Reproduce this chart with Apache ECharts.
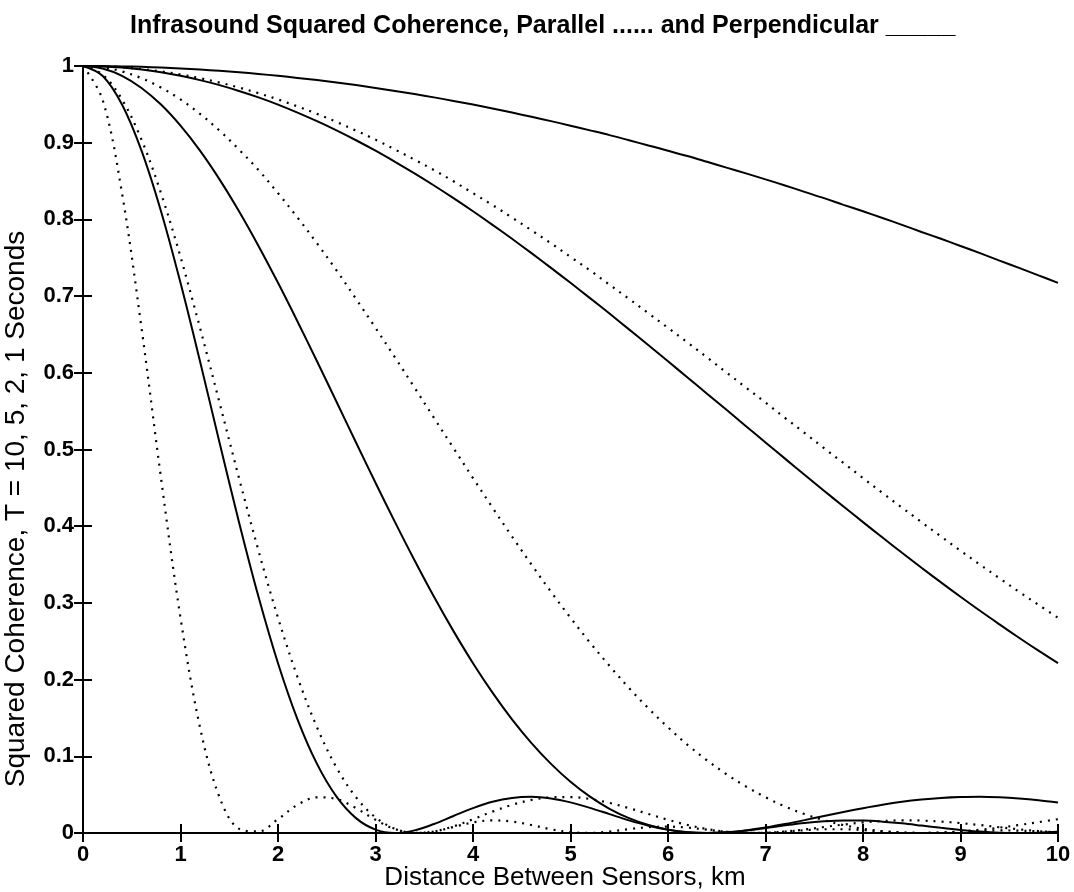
<!DOCTYPE html>
<html>
<head>
<meta charset="utf-8">
<script src="https://cdn.jsdelivr.net/npm/echarts@6/dist/echarts.min.js"></script>
<style>
html,body{margin:0;padding:0;background:#fff;}
#chart{width:1074px;height:892px;}
</style>
</head>
<body>
<div id="chart"></div>
<script>
// Distance between sensors (km)
const xs = [0,0.2,0.4,0.6,0.8,1,1.2,1.4,1.6,1.8,2,2.2,2.4,2.6,2.8,3,3.2,3.4,3.6,3.8,4,4.2,4.4,4.6,4.8,5,5.2,5.4,5.6,5.8,6,6.2,6.4,6.6,6.8,7,7.2,7.4,7.6,7.8,8,8.2,8.4,8.6,8.8,9,9.2,9.4,9.6,9.8,10];

// Perpendicular (solid) squared coherence, T = 10, 5, 2, 1 s
const perpT10 = [1,1.000,0.9995,0.9989,0.9979,0.9968,0.9954,0.9937,0.9918,0.9896,0.9872,0.9845,0.9816,0.9785,0.9751,0.9714,0.9675,0.9634,0.9591,0.9545,0.9497,0.9447,0.9393,0.9338,0.9281,0.9222,0.9161,0.9099,0.9032,0.8964,0.8896,0.8826,0.8751,0.8675,0.8600,0.8522,0.8442,0.8359,0.8277,0.8190,0.8106,0.8018,0.7929,0.7836,0.7747,0.7654,0.7560,0.7463,0.7368,0.7270,0.7173];
const perpT5 = [1,0.9995,0.9979,0.9954,0.9918,0.9872,0.9816,0.9751,0.9675,0.9591,0.9497,0.9393,0.9281,0.9161,0.9032,0.8896,0.8751,0.8600,0.8442,0.8277,0.8106,0.7929,0.7747,0.7560,0.7368,0.7173,0.6974,0.6772,0.6566,0.6359,0.6150,0.5939,0.5728,0.5517,0.5304,0.5092,0.4881,0.4671,0.4463,0.4257,0.4053,0.3852,0.3653,0.3459,0.3267,0.3080,0.2897,0.2720,0.2546,0.2377,0.2214];
const perpT2 = [1,0.9968,0.9872,0.9714,0.9497,0.9222,0.8896,0.8522,0.8106,0.7654,0.7173,0.6669,0.6150,0.5622,0.5092,0.4567,0.4053,0.3556,0.3080,0.2632,0.2214,0.1830,0.1482,0.1172,0.0901,0.0668,0.0474,0.0316,0.0194,0.0104,0.0044,0.0010,0,0.0009,0.0034,0.0071,0.0117,0.0168,0.0222,0.0275,0.0324,0.0369,0.0407,0.0436,0.0457,0.0469,0.0472,0.0465,0.0450,0.0428,0.0399];
const perpT1 = [1,0.9872,0.9497,0.8896,0.8106,0.7173,0.6150,0.5092,0.4053,0.3080,0.2214,0.1482,0.0901,0.0474,0.0194,0.0044,0,0.0034,0.0117,0.0222,0.0324,0.0407,0.0457,0.0472,0.0450,0.0399,0.0328,0.0246,0.0165,0.0095,0.0042,0.0010,0,0.0009,0.0033,0.0065,0.0100,0.0131,0.0153,0.0164,0.0162,0.0148,0.0126,0.0097,0.0067,0.0040,0.0018,0.0004,0,0.0004,0.0015];

// Parallel (dotted) squared coherence, T = 10, 5, 2, 1 s
const parT10 = [1,0.9996,0.9982,0.9960,0.9929,0.9889,0.9841,0.9784,0.9719,0.9645,0.9564,0.9473,0.9376,0.9271,0.9158,0.9040,0.8911,0.8779,0.8643,0.8497,0.8342,0.8187,0.8024,0.7858,0.7688,0.7511,0.7335,0.7149,0.6964,0.6776,0.6586,0.6396,0.6200,0.6004,0.5808,0.5611,0.5412,0.5217,0.5018,0.4823,0.4628,0.4434,0.4242,0.4053,0.3866,0.3681,0.3499,0.3321,0.3145,0.2975,0.2806];
const parT5 = [1,0.9982,0.9929,0.9841,0.9719,0.9564,0.9376,0.9158,0.8911,0.8643,0.8342,0.8024,0.7688,0.7335,0.6964,0.6586,0.6200,0.5808,0.5412,0.5018,0.4628,0.4242,0.3866,0.3499,0.3145,0.2806,0.2482,0.2179,0.1890,0.1624,0.1378,0.1150,0.0948,0.0766,0.0606,0.0466,0.0346,0.0247,0.0166,0.0103,0.0055,0.0024,0.0006,0,0.0005,0.0020,0.0042,0.0070,0.0104,0.0141,0.0180];
const parT2 = [1,0.9889,0.9564,0.9040,0.8342,0.7511,0.6586,0.5611,0.4628,0.3681,0.2806,0.2033,0.1378,0.0853,0.0466,0.0204,0.0055,0.0001,0.0020,0.0086,0.0180,0.0279,0.0367,0.0431,0.0465,0.0469,0.0443,0.0392,0.0324,0.0248,0.0172,0.0105,0.0052,0.0017,0.0001,0.0003,0.0019,0.0045,0.0078,0.0110,0.0138,0.0156,0.0165,0.0162,0.0149,0.0129,0.0104,0.0075,0.0048,0.0025,0.0010];
const parT1 = [1,0.9564,0.8342,0.6586,0.4628,0.2806,0.1378,0.0466,0.0055,0.0020,0.0180,0.0367,0.0465,0.0443,0.0324,0.0172,0.0052,0.0001,0.0019,0.0078,0.0138,0.0165,0.0149,0.0104,0.0048,0.0010,0.0001,0.0019,0.0050,0.0076,0.0083,0.0070,0.0043,0.0016,0.0001,0.0003,0.0018,0.0036,0.0049,0.0049,0.0037,0.0020,0.0005,0,0.0005,0.0016,0.0028,0.0034,0.0030,0.0021,0.0009];

const xTicks = [0,1,2,3,4,5,6,7,8,9,10];
const titleText = 'Infrasound Squared Coherence, Parallel ...... and Perpendicular _____';
const xName = 'Distance Between Sensors, km';
const yName = 'Squared Coherence, T = 10, 5, 2, 1 Seconds';

const FONT = '"Liberation Sans", Arial, Helvetica, sans-serif';

function pairs(ys){ return xs.map((x,i)=>[x, ys[i]]); }

const solidStyle = {color:'#000', width:2, type:'solid'};
const dotStyle = {color:'#000', width:2.2, type:[2,6], cap:'butt'};

function mk(name, ys, style){
  return {name, type:'line', data:pairs(ys), showSymbol:false, smooth:0.35,
          lineStyle:style, itemStyle:{color:'#000'}, silent:true, animation:false, z:3};
}

const chart = echarts.init(document.getElementById('chart'), null, {renderer:'canvas'});

const axisLineStyle = {lineStyle:{color:'#000', width:2}};
const tickStyle = {inside:true, length:9, lineStyle:{color:'#000', width:2}};

chart.setOption({
  animation:false,
  backgroundColor:'#fff',
  title:{text:titleText, left:125, top:9,
         textStyle:{fontFamily:FONT, fontSize:25, fontWeight:'bold', color:'#000'}},
  grid:{left:83, right:16, top:66, bottom:59, containLabel:false},
  xAxis:[
    {type:'value', min:0, max:10, interval:1, position:'bottom',
     axisLine:axisLineStyle, axisTick:tickStyle, splitLine:{show:false},
     axisLabel:{color:'#000', fontFamily:FONT, fontSize:22, fontWeight:'bold', margin:11,
                formatter:v=> xTicks.indexOf(v)>=0 ? String(v) : ''}},
    {type:'value', min:0, max:10, interval:1, position:'top',
     axisLine:axisLineStyle, axisTick:tickStyle, splitLine:{show:false},
     axisLabel:{show:false}}
  ],
  yAxis:[
    {type:'value', min:0, max:1, interval:0.1, position:'left',
     axisLine:axisLineStyle, axisTick:tickStyle, splitLine:{show:false},
     axisLabel:{color:'#000', fontFamily:FONT, fontSize:22, fontWeight:'bold', margin:9}},
    {type:'value', min:0, max:1, interval:0.1, position:'right',
     axisLine:axisLineStyle, axisTick:tickStyle, splitLine:{show:false},
     axisLabel:{show:false}}
  ],
  graphic:[
    {type:'text', x:16, y:509, rotation:Math.PI/2,
     style:{text:yName, fontFamily:FONT, fontSize:28, fill:'#000',
            align:'center', verticalAlign:'middle', textAlign:'center', textVerticalAlign:'middle'}},
    {type:'text', x:565, y:878,
     style:{text:xName, fontFamily:FONT, fontSize:26, fill:'#000',
            align:'center', verticalAlign:'middle', textAlign:'center', textVerticalAlign:'middle'}}
  ],
  series:[
    mk('Perpendicular T=10', perpT10, solidStyle),
    mk('Perpendicular T=5', perpT5, solidStyle),
    mk('Perpendicular T=2', perpT2, solidStyle),
    mk('Perpendicular T=1', perpT1, solidStyle),
    mk('Parallel T=10', parT10, dotStyle),
    mk('Parallel T=5', parT5, dotStyle),
    mk('Parallel T=2', parT2, dotStyle),
    mk('Parallel T=1', parT1, dotStyle)
  ]
});
</script>
</body>
</html>
